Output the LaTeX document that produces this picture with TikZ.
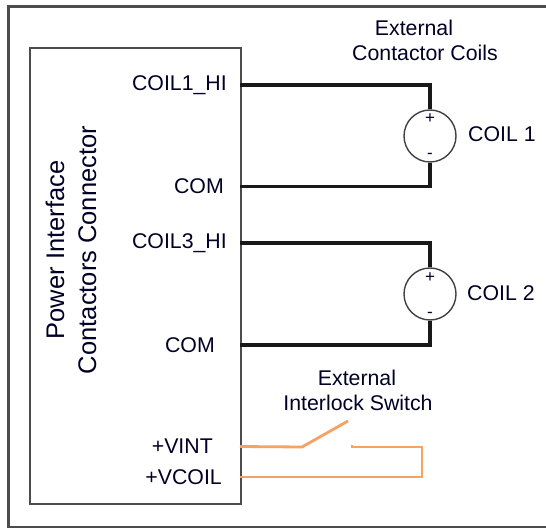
\documentclass[tikz,border=0pt]{standalone}
\usepackage{fontspec}
\setmainfont{Liberation Sans}
\begin{document}
\begin{tikzpicture}[x=1pt,y=-1pt,
  lbl/.style={inner sep=0pt, font=\fontsize{21.3}{25}\selectfont, text=black!85!blue},
  wire/.style={line width=3.2pt, black!90},
  owire/.style={line width=2.8pt, color=orangew},
  frame/.style={line width=2.2pt, draw=black!70},
  pm/.style={inner sep=0pt, font=\fontsize{17}{17}\selectfont, text=black!85!blue},
  coil/.style={circle, draw=black!75, line width=1.4pt, minimum size=52pt, inner sep=0pt}]
\definecolor{orangew}{HTML}{F5A262}
\useasboundingbox (0,0) rectangle (546,529);
% outer frame (no right side)
\draw[frame] (560,6.5) -- (8.5,6.5) -- (8.5,527) -- (560,527);
% connector box
\node[frame, draw, rectangle, minimum width=211pt, minimum height=456pt, anchor=north west, inner sep=0pt] (conn) at (29,47) {};
\node[lbl, rotate=90, align=center, font=\fontsize{25.5}{32}\selectfont] (title) at (71,250) {Power Interface\\Contactors Connector};
% pin labels
\node[lbl, anchor=east] (p1) at (227,85) {COIL1\_HI};
\node[lbl, anchor=east] (p2) at (224,186) {COM};
\node[lbl, anchor=east] (p3) at (227,243) {COIL3\_HI};
\node[lbl, anchor=east] (p4) at (215,345) {COM};
\node[lbl, anchor=east] (p5) at (213,446) {+VINT};
\node[lbl, anchor=east] (p6) at (222,477) {+VCOIL};
% pin coordinates
\coordinate (a1) at (240,85);
\coordinate (a2) at (240,186.5);
\coordinate (a3) at (240,243);
\coordinate (a4) at (240,345);
\coordinate (a5) at (240,446.5);
\coordinate (a6) at (240,477);
% coils
\node[coil] (c1) at (430,136) {};
\node[coil] (c2) at (430,294) {};
\node[pm] (c1p) at (430,119) {+};
\node[pm] (c1m) at (430,156) {-};
\node[pm] (c2p) at (430,278) {+};
\node[pm] (c2m) at (430,315) {-};
\node[lbl, anchor=west] (c1l) at (468,134) {COIL 1};
\node[lbl, anchor=west] (c2l) at (467,293) {COIL 2};
\node[lbl] (t1) at (414,28) {External};
\node[lbl] (t2) at (425,53) {Contactor Coils};
% wires
\draw[wire] (a1) -| (c1.north);
\draw[wire] (a2) -| (c1.south);
\draw[wire] (a3) -| (c2.north);
\draw[wire] (a4) -| (c2.south);
% interlock switch
\node[lbl] (s1) at (357,378) {External};
\node[lbl] (s2) at (358,403) {Interlock Switch};
\coordinate (sw1) at (302,447);
\coordinate (sw2) at (348,421);
\coordinate (sw3) at (352,445);
\coordinate (sw4) at (422,447);
\draw[owire] (a5) -- (sw1) -- (sw2);
\draw[owire] (sw3) |- (sw4) |- (a6);
\end{tikzpicture}
\end{document}
